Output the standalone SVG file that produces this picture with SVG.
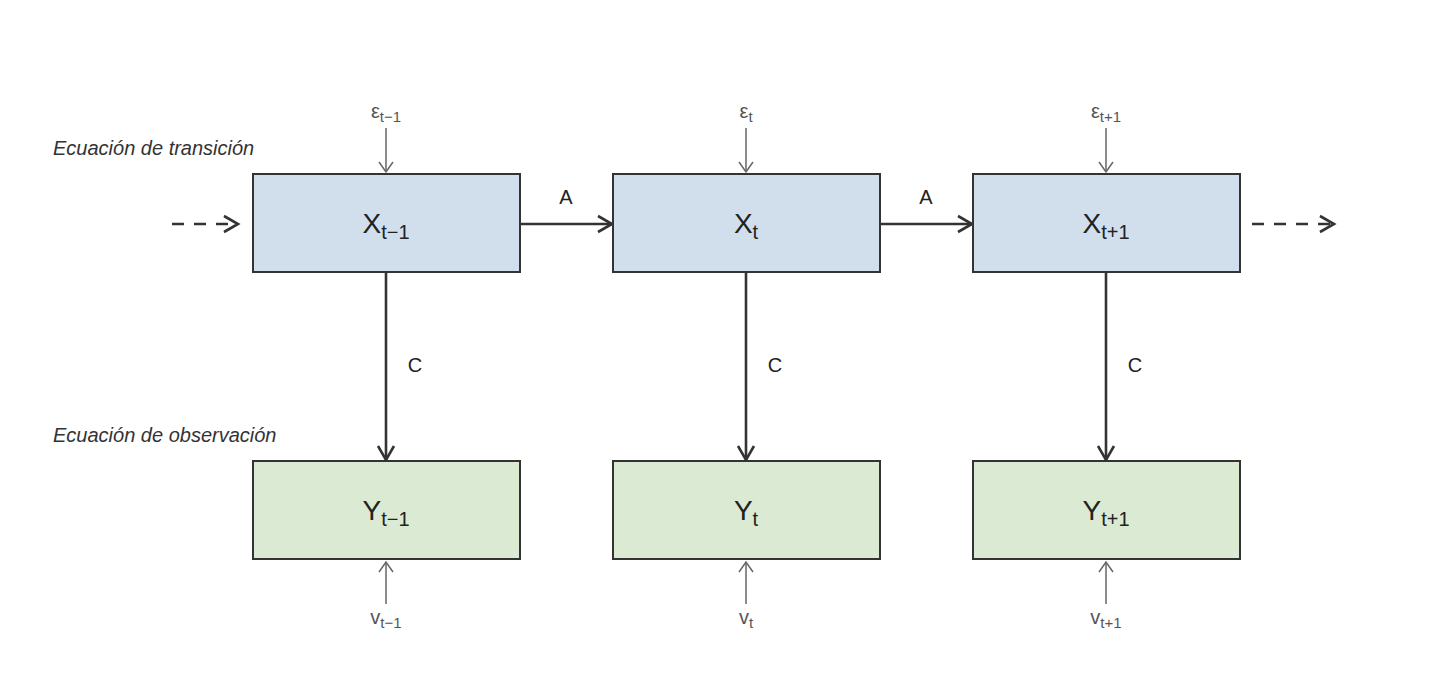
<svg xmlns="http://www.w3.org/2000/svg" width="1440" height="691" viewBox="0 0 1440 691">
<defs>
<marker id="ah" viewBox="0 0 20 20" refX="17" refY="10" markerWidth="20" markerHeight="20" markerUnits="userSpaceOnUse" orient="auto"><path d="M3,2 L17,10 L3,18" fill="none" stroke="#333" stroke-width="2.6"/></marker>
<marker id="ahs" viewBox="0 0 16 16" refX="14" refY="8" markerWidth="16" markerHeight="16" markerUnits="userSpaceOnUse" orient="auto"><path d="M4,1 L14,8 L4,15" fill="none" stroke="#666" stroke-width="1.5"/></marker>
</defs>
<style>
text{font-family:"Liberation Sans",Arial,sans-serif;fill:#222}
.bx{fill:#d1deec;stroke:#333;stroke-width:2}
.by{fill:#dbead3;stroke:#333;stroke-width:2}
.n{font-size:28px;text-anchor:middle}
.n tspan.s{font-size:20px}
.sm{font-size:20px;text-anchor:middle;fill:#555}
.sm tspan.s{font-size:15px}
.lab{font-size:20px;fill:#222}
.it{font-size:20px;font-style:italic;fill:#333}
.c{stroke:#333;stroke-width:2.6;fill:none;marker-end:url(#ah)}
.d{stroke-dasharray:12,10}
.g{stroke:#666;stroke-width:1.5;fill:none;marker-end:url(#ahs)}
</style>
<rect width="1440" height="691" fill="#fff"/>
<text class="it" x="53" y="155">Ecuación de transición</text>
<text class="it" x="53" y="442">Ecuación de observación</text>
<g id="connectors">
<line class="c d" x1="172" y1="224" x2="238" y2="224"/>
<line class="c d" x1="1252" y1="224" x2="1334" y2="224"/>
<line class="c" x1="520" y1="224" x2="612" y2="224"/>
<line class="c" x1="880" y1="224" x2="972" y2="224"/>
<line class="c" x1="386" y1="272" x2="386" y2="460"/>
<line class="c" x1="746" y1="272" x2="746" y2="460"/>
<line class="c" x1="1106" y1="272" x2="1106" y2="460"/>
<line class="g" x1="386" y1="128" x2="386" y2="172"/>
<line class="g" x1="746" y1="128" x2="746" y2="172"/>
<line class="g" x1="1106" y1="128" x2="1106" y2="172"/>
<line class="g" x1="386" y1="604" x2="386" y2="562"/>
<line class="g" x1="746" y1="604" x2="746" y2="562"/>
<line class="g" x1="1106" y1="604" x2="1106" y2="562"/>
<text class="lab" x="566" y="204" text-anchor="middle">A</text>
<text class="lab" x="926" y="204" text-anchor="middle">A</text>
<text class="lab" x="415" y="372" text-anchor="middle">C</text>
<text class="lab" x="775" y="372" text-anchor="middle">C</text>
<text class="lab" x="1135" y="372" text-anchor="middle">C</text>
<text class="sm" x="386" y="118">ε<tspan class="s" dy="4">t−1</tspan></text>
<text class="sm" x="746" y="118">ε<tspan class="s" dy="4">t</tspan></text>
<text class="sm" x="1106" y="118">ε<tspan class="s" dy="4">t+1</tspan></text>
<text class="sm" x="386" y="624">v<tspan class="s" dy="4">t−1</tspan></text>
<text class="sm" x="746" y="624">v<tspan class="s" dy="4">t</tspan></text>
<text class="sm" x="1106" y="624">v<tspan class="s" dy="4">t+1</tspan></text>
</g>
<g id="x1"><rect class="bx" x="253" y="174" width="267" height="98"/><text class="n" x="386" y="233">X<tspan class="s" dy="6">t−1</tspan></text></g>
<g id="x2"><rect class="bx" x="613" y="174" width="267" height="98"/><text class="n" x="746" y="233">X<tspan class="s" dy="6">t</tspan></text></g>
<g id="x3"><rect class="bx" x="973" y="174" width="267" height="98"/><text class="n" x="1106" y="233">X<tspan class="s" dy="6">t+1</tspan></text></g>
<g id="y1"><rect class="by" x="253" y="461" width="267" height="98"/><text class="n" x="386" y="520">Y<tspan class="s" dy="6">t−1</tspan></text></g>
<g id="y2"><rect class="by" x="613" y="461" width="267" height="98"/><text class="n" x="746" y="520">Y<tspan class="s" dy="6">t</tspan></text></g>
<g id="y3"><rect class="by" x="973" y="461" width="267" height="98"/><text class="n" x="1106" y="520">Y<tspan class="s" dy="6">t+1</tspan></text></g>
</svg>
